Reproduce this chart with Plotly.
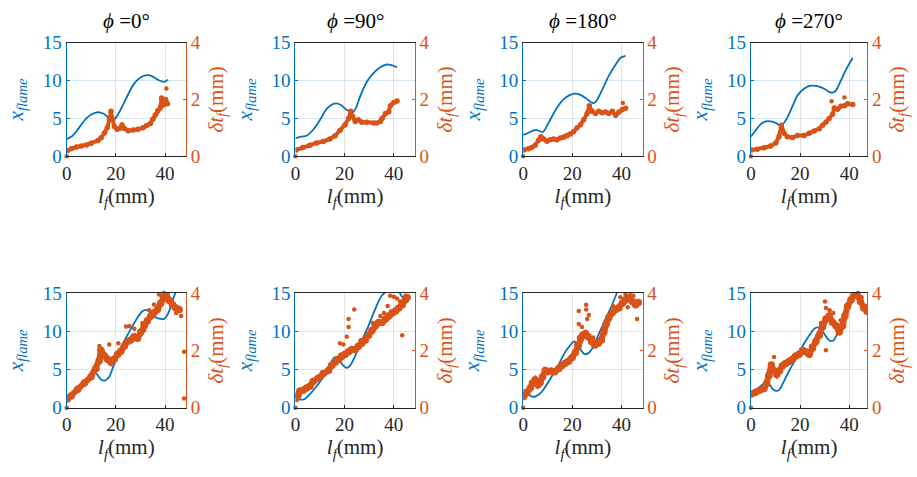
import plotly.graph_objects as go

BLUE = "#0072BD"
ORANGE = "#D95319"
FONT = "Liberation Serif"

phi_labels = ["0", "90", "180", "270"]

# ---------------- top row ----------------
t0_lf = [0, 2, 4, 6, 8, 10, 12.7, 15, 17, 18.6, 20, 22, 24, 26, 28, 30, 32, 33.5, 35, 37, 39.6, 41.2]
t0_xf = [2.25, 2.6, 3.3, 4.2, 5.0, 5.5, 5.8, 5.6, 5.1, 4.7, 5.1, 6.2, 7.5, 8.8, 9.8, 10.4, 10.65, 10.7, 10.5, 10.1, 9.8, 10.1]
t0_lfb = [0.3, 2, 4, 6, 8.1, 10, 12.7, 14, 15.4, 16.5, 17.4, 18.0, 18.6, 19.4, 20.5, 21.5, 22.5, 23.5, 25, 27, 29, 31, 32.5, 34, 35, 36, 37, 38, 38.6, 39.4, 40.2, 41]
t0_dtb = [0.2, 0.27, 0.33, 0.36, 0.4, 0.46, 0.55, 0.65, 0.83, 1.0, 1.3, 1.58, 1.3, 1.05, 0.95, 0.98, 1.1, 0.98, 0.9, 0.92, 0.95, 1.0, 1.08, 1.15, 1.3, 1.45, 1.6, 1.7, 2.05, 1.8, 2.0, 1.85]
t0_lfp = [0, 40.5]
t0_dtp = [0, 2.38]

t90_lf = [0, 2.5, 4.5, 7.2, 10, 12.7, 15.4, 17.2, 18.8, 20.9, 23.3, 24.5, 26.3, 29, 31.8, 34.5, 37.2, 38.6, 40, 41.3]
t90_xf = [2.4, 2.6, 2.7, 3.5, 4.8, 6.25, 6.9, 6.95, 6.7, 6.1, 5.8, 6.3, 7.9, 9.8, 11.0, 11.75, 12.1, 12.05, 11.9, 11.7]
t90_lfb = [0.3, 3, 5.9, 8.6, 11.3, 14, 16.1, 18.1, 20.2, 21.6, 22.5, 23.3, 24.3, 25.6, 27, 29, 31.8, 33.1, 34.5, 35.2, 36.6, 37.9, 38.6, 40, 41.3]
t90_dtb = [0.22, 0.31, 0.39, 0.47, 0.52, 0.61, 0.72, 0.91, 1.11, 1.33, 1.58, 1.39, 1.22, 1.28, 1.2, 1.2, 1.17, 1.17, 1.22, 1.33, 1.5, 1.56, 1.78, 1.89, 1.94]
t90_lfp = [0]
t90_dtp = [0]

t180_lf = [0, 2.2, 4.2, 5.6, 8, 10.3, 13, 15.8, 18.5, 21.2, 23.3, 25.3, 27.3, 28.7, 30, 32.1, 34.8, 37.6, 39.6, 41.6]
t180_xf = [2.8, 3.1, 3.4, 3.45, 3.2, 4.4, 6.0, 7.3, 8.0, 8.25, 8.1, 7.7, 7.2, 7.0, 7.4, 8.75, 10.6, 12.1, 13.0, 13.25]
t180_lfb = [0.3, 2.2, 3.5, 4.9, 6.3, 7.2, 8.3, 9.7, 11, 12.4, 13.7, 15.1, 16.5, 17.8, 19.2, 20.5, 21.9, 23.3, 24.6, 26, 26.9, 28, 29.4, 30.7, 32.1, 33.5, 34.8, 36.2, 37.6, 38.9, 40.3, 41.6]
t180_dtb = [0.22, 0.26, 0.31, 0.39, 0.56, 0.69, 0.61, 0.53, 0.58, 0.61, 0.58, 0.64, 0.67, 0.72, 0.78, 0.86, 1.0, 1.11, 1.28, 1.5, 1.78, 1.58, 1.5, 1.58, 1.53, 1.56, 1.5, 1.58, 1.44, 1.56, 1.64, 1.69]
t180_lfp = [0, 40.5]
t180_dtp = [0, 1.87]

t270_lf = [0, 1.9, 3.9, 6, 8, 10.1, 11.8, 12.8, 14.8, 16.9, 18.9, 21.6, 24.4, 27.1, 29.8, 31.8, 33.2, 34.6, 36.6, 38.6, 41.4]
t270_xf = [2.6, 3.4, 4.2, 4.6, 4.6, 4.4, 4.1, 4.2, 5.1, 6.6, 8.0, 8.9, 9.3, 9.25, 8.9, 8.5, 8.4, 8.7, 10.0, 11.4, 13.0]
t270_lfb = [0.3, 2.6, 5.3, 8, 10.1, 11.4, 12.4, 13.5, 14.8, 16.9, 18.9, 21.6, 23.7, 25.7, 27.8, 29.1, 30.5, 31.8, 33.2, 33.9, 35.2, 36.6, 38, 39.3, 41.4]
t270_dtb = [0.22, 0.25, 0.3, 0.36, 0.47, 0.69, 1.09, 0.81, 0.69, 0.66, 0.73, 0.73, 0.81, 0.89, 0.97, 1.09, 1.2, 1.33, 1.48, 1.7, 1.65, 1.76, 1.78, 1.85, 1.82]
t270_lfp = [0, 32.8, 38]
t270_dtp = [0, 1.93, 2.07]

# ---------------- bottom row ----------------
b0_lf = [0.3, 4.5, 8.5, 10.5, 11.9, 13.9, 15.5, 17.3, 19.3, 22, 24.7, 26.8, 28.8, 30.8, 32.2, 33.5, 34.9, 36.2, 38.2, 39.6, 40.9, 42.3, 43.6, 44.5]
b0_xf = [0.9, 2.3, 3.6, 4.6, 4.5, 3.7, 3.55, 4.05, 5.7, 7.8, 9.5, 10.7, 11.8, 12.6, 12.8, 12.6, 12.2, 11.8, 11.6, 11.6, 12.1, 13.2, 14.5, 15.3]
b0_lfb = [0.3, 1.8, 4.5, 7.2, 9.9, 11.9, 13.2, 13.9, 15.3, 16.6, 18, 19.3, 20.7, 22, 23.4, 24.7, 26.1, 27.4, 28.8, 30.1, 31.5, 32.8, 34.2, 35.5, 36.9, 38.2, 39.3, 40.3, 41.6, 43, 44.3, 45.7]
b0_dtb = [0.3, 0.41, 0.64, 0.86, 1.08, 1.36, 1.64, 2.0, 1.8, 1.69, 1.58, 1.69, 1.86, 1.97, 2.14, 2.31, 2.36, 2.47, 2.42, 2.64, 2.86, 3.03, 3.2, 3.31, 3.42, 3.64, 3.87, 3.96, 3.75, 3.59, 3.48, 3.42]
b0_lfp = [0, 47.7, 47.7, 24.1, 25.5, 17.3, 13.3, 30.8, 29.5, 37.5, 39.5, 41, 44.5, 46.5, 21, 33.5, 14.5, 27.5, 31.5, 35.5, 38.8, 42.5]
b0_dtp = [0, 1.95, 0.32, 2.83, 2.85, 2.2, 2.15, 2.95, 2.55, 3.95, 4.0, 3.95, 3.3, 3.2, 2.25, 3.4, 1.95, 2.75, 2.7, 3.6, 3.8, 3.7]

b90_lf = [0.2, 1.1, 2.5, 3.8, 5.9, 8.6, 11.3, 13.4, 14.7, 15.8, 16.8, 18.1, 19.5, 20.9, 22.2, 23.6, 25.6, 27.7, 29.7, 31.8, 33.8, 35.2, 36.6, 38, 40, 42, 43.4, 44.7, 45.5]
b90_xf = [1.5, 1.2, 1.05, 1.13, 1.76, 2.8, 3.97, 5.1, 6.06, 6.56, 6.56, 6.06, 5.5, 5.2, 5.5, 6.3, 7.8, 9.3, 10.7, 12.4, 13.9, 14.7, 15.1, 15.4, 15.6, 15.2, 14.5, 14.4, 14.5]
b90_lfb = [0.3, 1.1, 1.8, 3.1, 4.5, 5.9, 7.2, 9.3, 11.3, 13.4, 14.7, 16.1, 17.5, 18.8, 20.2, 21.6, 22.9, 24.3, 25.6, 27, 28.4, 29.7, 31.1, 32.5, 33.8, 35.2, 36.6, 37.9, 39.3, 40.7, 42, 43.4, 44.7, 45.4]
b90_dtb = [0.32, 0.43, 0.58, 0.61, 0.69, 0.75, 0.91, 1.03, 1.19, 1.3, 1.47, 1.58, 1.69, 1.8, 1.86, 1.95, 2.03, 2.03, 2.14, 2.25, 2.36, 2.53, 2.69, 2.86, 2.97, 2.97, 3.09, 3.2, 3.31, 3.37, 3.48, 3.59, 3.76, 3.84]
b90_lfp = [0, 21.6, 21.6, 23.9, 18.1, 20.9, 40, 43.4, 44.7, 41.3, 38.5, 36, 19.5, 26.5, 31.5, 34.5, 37.5, 42.5]
b90_dtp = [0, 3.09, 2.81, 3.42, 2.25, 2.47, 3.87, 2.53, 3.9, 3.81, 3.9, 3.3, 2.2, 2.35, 2.95, 3.2, 3.55, 3.7]

b180_lf = [0.2, 1.5, 3.5, 4.9, 6.5, 8.3, 10.3, 13.1, 15.1, 17.1, 19.2, 20.5, 21.9, 23.3, 25, 26.4, 27.8, 29.4, 31.4, 33.5, 35.5, 37.6, 38.2, 40]
b180_xf = [2.4, 1.96, 1.46, 1.46, 1.75, 2.38, 3.4, 4.9, 6.06, 7.3, 8.2, 8.65, 8.45, 7.6, 7.0, 7.1, 7.6, 8.65, 10.1, 11.6, 13.0, 14.6, 15.1, 16.5]
b180_lfb = [0.2, 1.5, 2.9, 3.8, 4.9, 6, 6.9, 7.9, 9, 10.1, 11.4, 12.8, 14.4, 15.8, 17.1, 18.5, 19.9, 21.2, 22.3, 23.3, 24.2, 25.3, 26.4, 27.8, 29.1, 30.5, 31.8, 32.8, 33.7, 34.8, 36.2, 37.6, 38.9, 40.3, 41.6, 43, 44.4, 45.7, 46.8]
b180_dtb = [0.39, 0.52, 0.69, 0.86, 0.97, 0.8, 0.88, 1.08, 1.3, 1.25, 1.28, 1.25, 1.36, 1.47, 1.55, 1.62, 1.75, 1.92, 2.14, 2.42, 2.53, 2.59, 2.47, 2.31, 2.19, 2.25, 2.36, 2.64, 2.92, 3.14, 3.31, 3.42, 3.48, 3.64, 3.76, 3.84, 3.7, 3.59, 3.67]
b180_lfp = [0, 22.6, 25.6, 25.6, 26, 22.6, 26.7, 23.9, 46.3, 43.7, 41.6, 44.8, 39.5, 42.5, 36.5, 21.5, 28.5, 33]
b180_dtp = [0, 3.37, 3.59, 3.42, 3.09, 2.92, 3.23, 2.81, 3.09, 3.92, 3.95, 3.9, 3.85, 3.5, 3.55, 2.2, 2.45, 2.85]

b270_lf = [0.2, 1.9, 3.9, 5.6, 7.3, 8.7, 10.1, 11.4, 13.5, 15.5, 17.6, 19.6, 21.6, 23.7, 25.7, 27.1, 28.4, 29.8, 31.2, 32.5, 33.6, 35.2, 36.9, 38.6, 40.4, 41.4, 42]
b270_xf = [1.9, 2.3, 2.8, 3.2, 3.1, 2.5, 2.2, 2.3, 3.5, 4.8, 6.0, 7.1, 8.4, 9.45, 10.3, 10.5, 10.3, 9.66, 9.0, 8.7, 8.8, 9.7, 10.9, 12.4, 14.0, 14.9, 15.6]
b270_lfb = [0.2, 1.9, 3.9, 5.3, 6.4, 7.3, 8.3, 9.4, 10.5, 11.6, 12.8, 14.1, 15.5, 16.9, 18.2, 19.6, 21, 22.3, 23.7, 25, 26.4, 27.8, 29.1, 30.5, 31.8, 33.2, 34.6, 35.9, 37.3, 38.2, 39.3, 40.7, 42, 43.1, 44.5, 45.9, 47.2]
b270_dtb = [0.48, 0.54, 0.62, 0.67, 0.84, 1.12, 1.49, 1.29, 1.16, 1.29, 1.46, 1.54, 1.61, 1.69, 1.8, 1.86, 1.99, 1.95, 1.86, 2.08, 2.31, 2.53, 2.81, 3.09, 3.2, 2.98, 2.86, 2.64, 2.86, 3.2, 3.54, 3.76, 3.92, 3.96, 3.7, 3.48, 3.36]
b270_lfp = [0, 30.1, 30.5, 9.4, 30.5, 32, 43.5, 45, 28.5, 33.5, 36.5, 41.5, 24.5, 46.5]
b270_dtp = [0, 3.7, 3.48, 1.77, 2.0, 3.4, 4.0, 3.85, 2.95, 3.3, 3.05, 3.95, 2.15, 3.55]

panels = [
    (t0_lf, t0_xf, t0_lfb, t0_dtb, t0_lfp, t0_dtp),
    (t90_lf, t90_xf, t90_lfb, t90_dtb, t90_lfp, t90_dtp),
    (t180_lf, t180_xf, t180_lfb, t180_dtb, t180_lfp, t180_dtp),
    (t270_lf, t270_xf, t270_lfb, t270_dtb, t270_lfp, t270_dtp),
    (b0_lf, b0_xf, b0_lfb, b0_dtb, b0_lfp, b0_dtp),
    (b90_lf, b90_xf, b90_lfb, b90_dtb, b90_lfp, b90_dtp),
    (b180_lf, b180_xf, b180_lfb, b180_dtb, b180_lfp, b180_dtp),
    (b270_lf, b270_xf, b270_lfb, b270_dtb, b270_lfp, b270_dtp),
]

W, H = 917, 477
col_px = [(62, 182), (292, 412), (521, 641), (750, 867)]
row_px = [(34, 153), (296, 416)]
x_max = [48.5, 48.5, 48.5, 47.3]
band_w = [4.0, 6.0]

fig = go.Figure()
layout = dict(
    width=W, height=H, margin=dict(l=0, r=0, t=0, b=0),
    paper_bgcolor="white", plot_bgcolor="white", showlegend=False,
    font=dict(family=FONT, size=17, color="#262626"),
)
annotations = []

for i, (lf, xf, lfb, dtb, lfp, dtp) in enumerate(panels):
    r, c = divmod(i, 4)
    xs = "" if i == 0 else str(i + 1)
    yl = "" if i == 0 else str(i + 1)
    yr = str(i + 9)
    x0, x1 = col_px[c]
    t, b = row_px[r]
    xdom = [x0 / W, x1 / W]
    ydom = [1 - b / H, 1 - t / H]

    fig.add_trace(go.Scatter(x=lf, y=xf, mode="lines", line=dict(color=BLUE, width=1.8, shape="spline", smoothing=0.8),
                             xaxis="x" + xs, yaxis="y" + yl))
    fig.add_trace(go.Scatter(x=lfb, y=dtb, mode="lines+markers", line=dict(color=ORANGE, width=band_w[r]),
                             marker=dict(color=ORANGE, size=band_w[r] + 1.5), xaxis="x" + xs, yaxis="y" + yr))
    fig.add_trace(go.Scatter(x=lfp, y=dtp, mode="markers", marker=dict(color=ORANGE, size=4.5),
                             xaxis="x" + xs, yaxis="y" + yr, cliponaxis=False))

    layout["xaxis" + xs] = dict(
        domain=xdom, anchor="y" + yl, range=[0, x_max[c]], tickvals=[0, 20, 40],
        showgrid=True, gridcolor="#e2e2e2", gridwidth=1, zeroline=False,
        showline=True, linecolor="#262626", linewidth=1, mirror=True,
        ticks="inside", ticklen=3, tickcolor="#262626",
        tickfont=dict(family=FONT, size=19, color="#262626"),
        title=dict(text="<i>l</i><sub><i>f</i></sub>(mm)", standoff=2,
                   font=dict(family=FONT, size=21, color="#262626")),
    )
    layout["yaxis" + yl] = dict(
        domain=ydom, anchor="x" + xs, range=[0, 15], tickvals=[0, 5, 10, 15],
        showgrid=True, gridcolor="#d6e7f3", gridwidth=1, zeroline=False,
        showline=True, linecolor=BLUE, linewidth=1,
        ticks="inside", ticklen=3, tickcolor=BLUE,
        tickfont=dict(family=FONT, size=19, color=BLUE),
        title=dict(text="<i>x</i><sub><i>flame</i></sub>", standoff=13,
                   font=dict(family=FONT, size=21, color=BLUE)),
    )
    layout["yaxis" + yr] = dict(
        domain=ydom, anchor="x" + xs, overlaying="y" + yl, side="right",
        range=[0, 4], tickvals=[0, 2, 4], showgrid=False, zeroline=False,
        showline=True, linecolor=ORANGE, linewidth=1,
        ticks="inside", ticklen=3, tickcolor=ORANGE,
        tickfont=dict(family=FONT, size=19, color=ORANGE),
        title=dict(text="<i>δt</i><sub><i>f</i></sub>(mm)", standoff=8,
                   font=dict(family=FONT, size=21, color=ORANGE)),
    )
    if r == 0:
        annotations.append(dict(
            text="<i>ϕ</i> =" + phi_labels[c] + "°", xref="paper", yref="paper",
            x=(xdom[0] + xdom[1]) / 2, y=1 - 12 / H, xanchor="center", yanchor="middle",
            showarrow=False, font=dict(family=FONT, size=21, color="#000000"),
        ))

layout["annotations"] = annotations
fig.update_layout(**layout)
fig.write_html("out.html")
